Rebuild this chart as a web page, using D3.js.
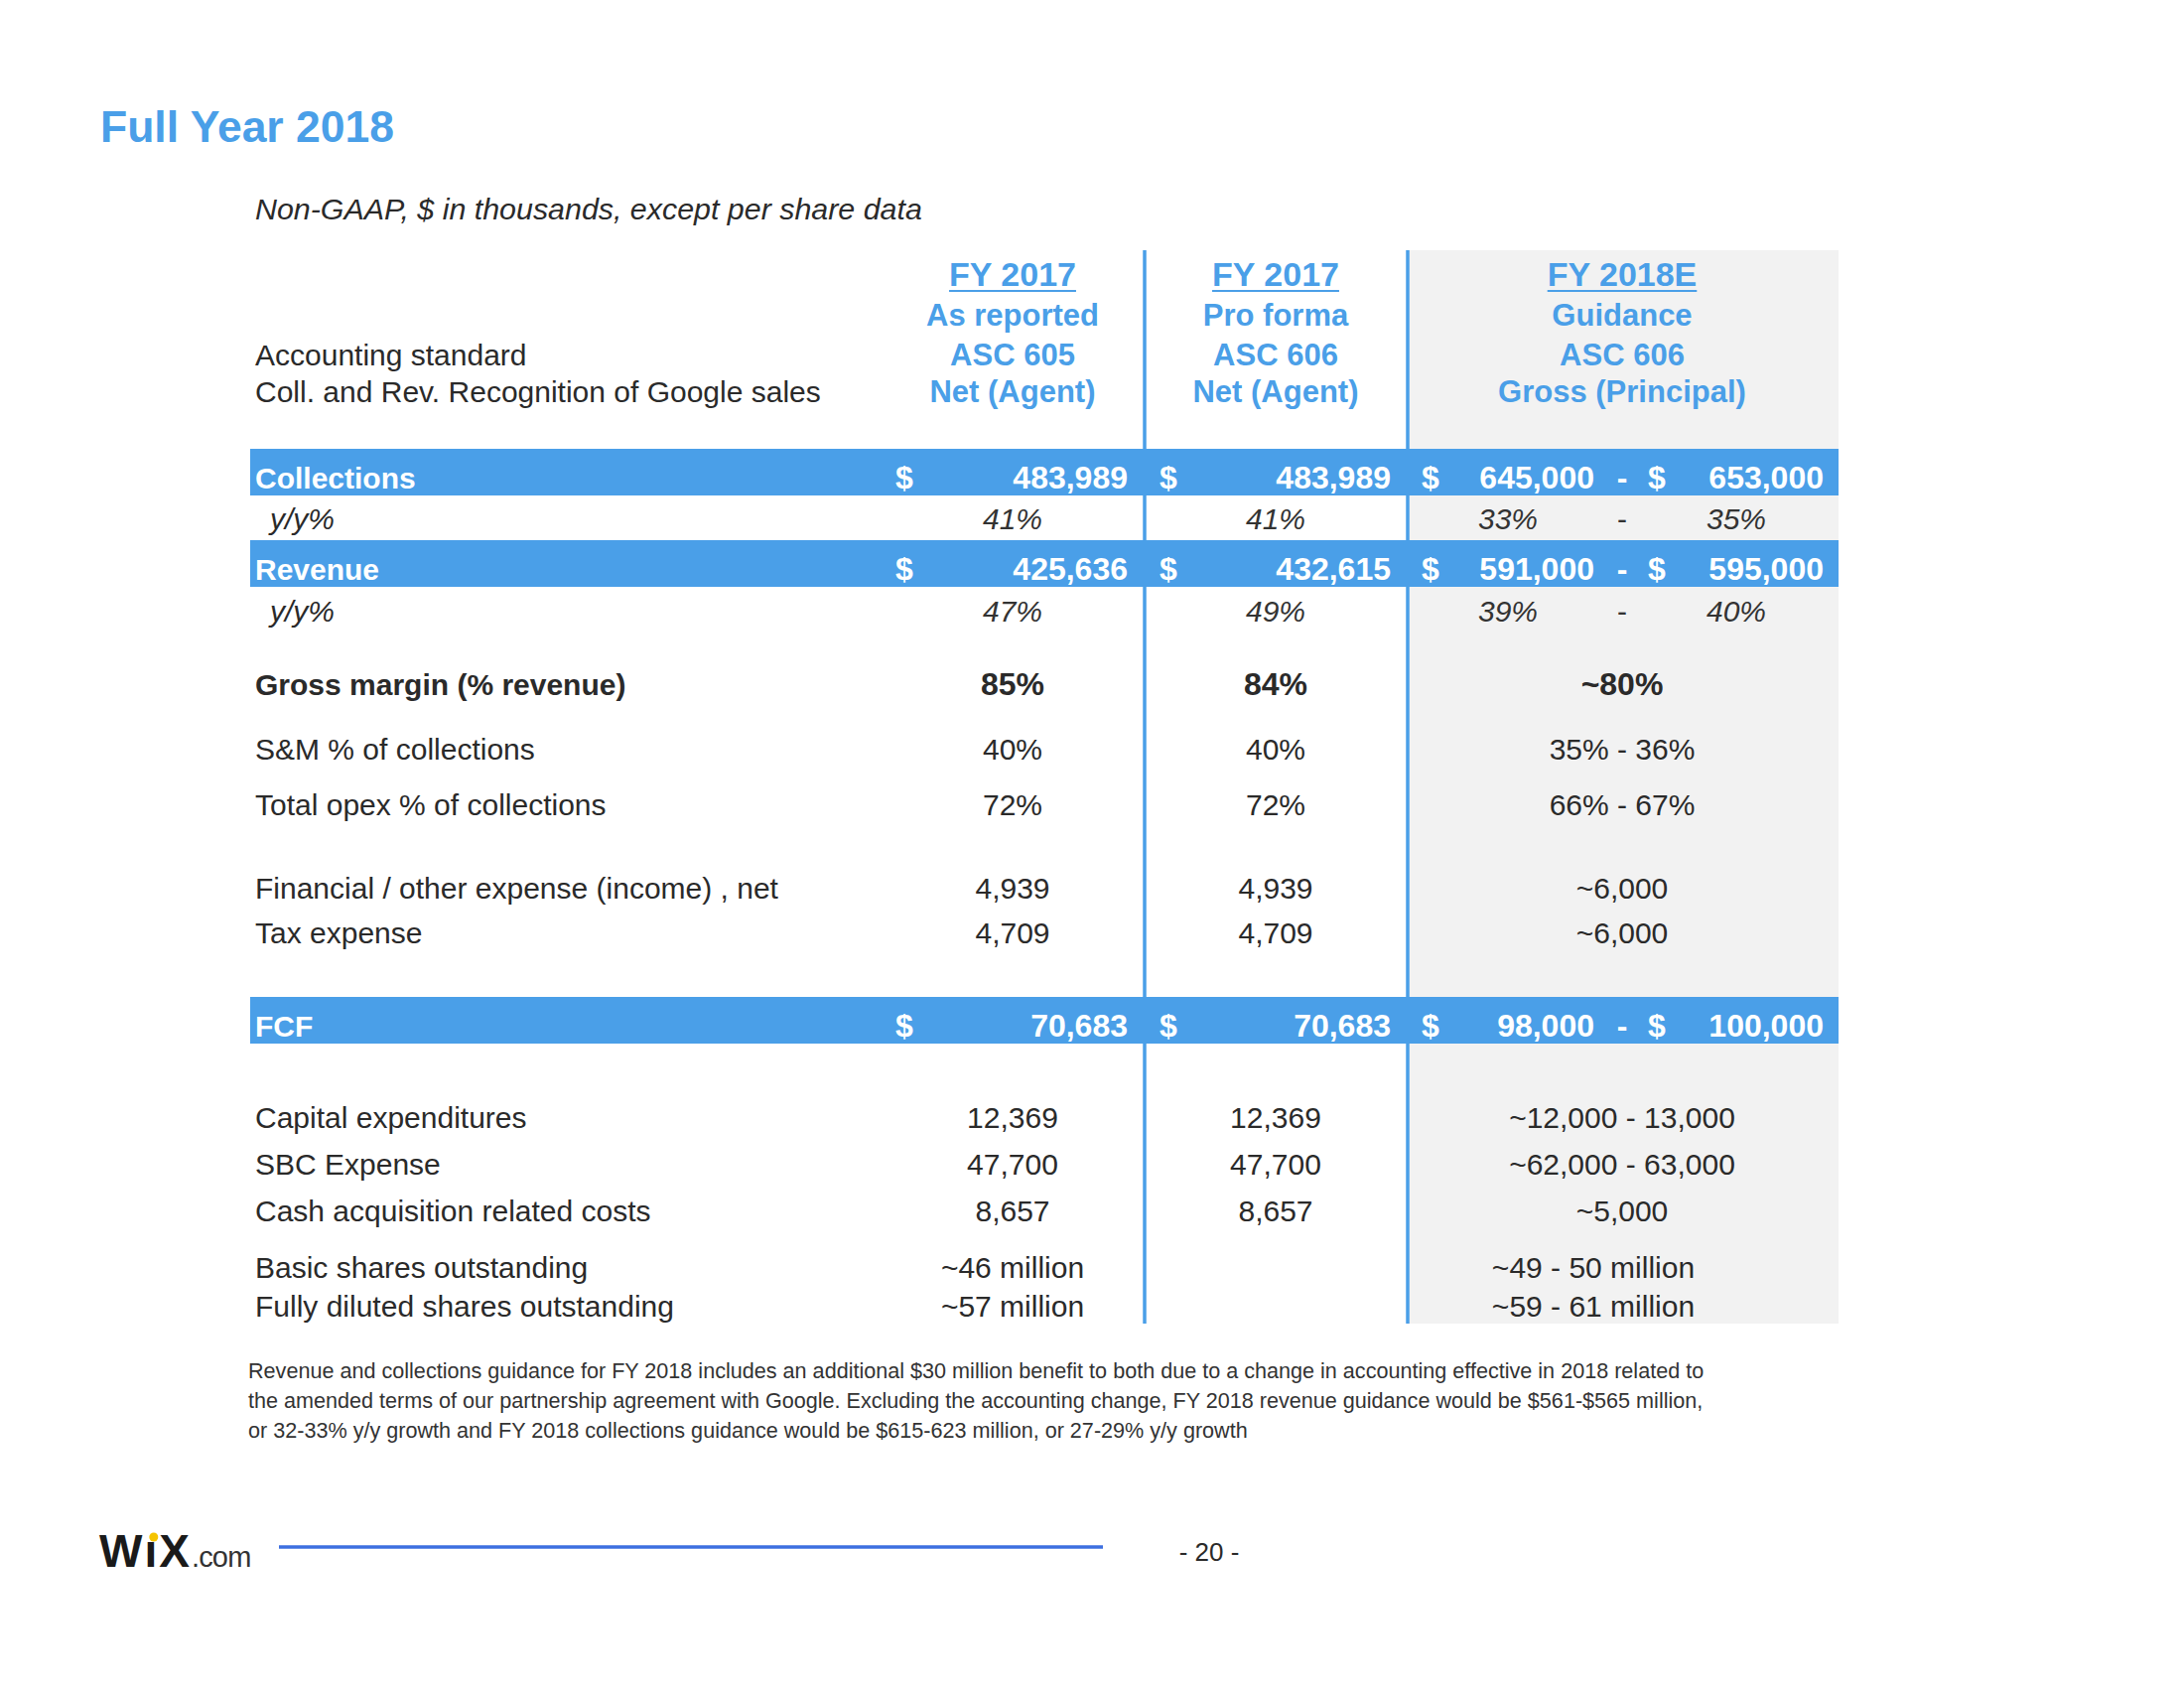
<!DOCTYPE html>
<html><head><meta charset="utf-8">
<script src="https://cdn.jsdelivr.net/npm/d3@7"></script>
<style>html,body{margin:0;padding:0;background:#fff;}svg{display:block;font-family:"Liberation Sans",Arial,Helvetica,sans-serif;}</style>
</head><body>
<script>
// ---------------- DATA ----------------
const title = "Full Year 2018";
const subtitle = "Non-GAAP, $ in thousands, except per share data";
const columns = ["fy17", "fy17pf", "fy18e"];
const columnHeaders = [
  ["FY 2017", "As reported", "ASC 605", "Net (Agent)"],
  ["FY 2017", "Pro forma", "ASC 606", "Net (Agent)"],
  ["FY 2018E", "Guidance", "ASC 606", "Gross (Principal)"]
];
const headerRowLabels = ["Accounting standard", "Coll. and Rev. Recognition of Google sales"];
const rowKeys = ["collections","collYoY","revenue","revYoY","gross","sm","opex","fin","tax","fcf","capex","sbc","cash","basic","diluted"];
const rowLabels = ["Collections","y/y%","Revenue","y/y%","Gross margin (% revenue)","S&M % of collections",
  "Total opex % of collections","Financial / other expense (income) , net","Tax expense","FCF",
  "Capital expenditures","SBC Expense","Cash acquisition related costs","Basic shares outstanding","Fully diluted shares outstanding"];
const rowTypes = ["bar","yoy","bar","yoy","bold","plain","plain","plain","plain","bar","plain","plain","plain","plain","plain"];
// series values (FY2017 as reported, FY2017 pro forma, FY2018E guidance)
const collections   = [483989, 483989, [645000, 653000]];
const collectionsYoY = ["41%", "41%", ["33%", "35%"]];
const revenue       = [425636, 432615, [591000, 595000]];
const revenueYoY    = ["47%", "49%", ["39%", "40%"]];
const grossMargin   = ["85%", "84%", "~80%"];
const smPct         = ["40%", "40%", "35% - 36%"];
const opexPct       = ["72%", "72%", "66% - 67%"];
const financialExp  = [4939, 4939, "~6,000"];
const taxExp        = [4709, 4709, "~6,000"];
const fcf           = [70683, 70683, [98000, 100000]];
const capex         = [12369, 12369, "~12,000 - 13,000"];
const sbcExpense    = [47700, 47700, "~62,000 - 63,000"];
const cashAcq       = [8657, 8657, "~5,000"];
const basicShares   = ["~46 million", "", "~49 - 50 million"];
const dilutedShares = ["~57 million", "", "~59 - 61 million"];
const rowValues = [collections, collectionsYoY, revenue, revenueYoY, grossMargin, smPct, opexPct,
  financialExp, taxExp, fcf, capex, sbcExpense, cashAcq, basicShares, dilutedShares];
const footnote = [
  "Revenue and collections guidance for FY 2018 includes an additional $30 million benefit to both due to a change in accounting effective in 2018 related to",
  "the amended terms of our partnership agreement with Google. Excluding the accounting change, FY 2018 revenue guidance would be $561-$565 million,",
  "or 32-33% y/y growth and FY 2018 collections guidance would be $615-623 million, or 27-29% y/y growth"
];
const pageNumber = "- 20 -";

// ---------------- LAYOUT ----------------
const W = 2200, H = 1700;
const BLUE = "#4a9fe8", GRAY = "#f2f2f2", TEXT = "#2a2a2a", FOOTBLUE = "#3d6fe0";
const tableLeft = 252, tableRight = 1852, tableTop = 252, tableBottom = 1333;
const labelX = 257;

const svg = d3.select("body").append("svg").attr("width", W).attr("height", H);
svg.append("rect").attr("width", W).attr("height", H).attr("fill", "#fff");

// scales
const yRow = d3.scaleOrdinal().domain(rowKeys)
  .range([492, 533, 584, 626, 700, 765, 821, 905, 950, 1044, 1136, 1183, 1230, 1287, 1326]);
const xCenter = d3.scaleOrdinal().domain(columns).range([1020, 1285, 1634]);
const xLeft = d3.scaleOrdinal().domain(columns).range([887, 1153, 1418]);
const xRight = d3.scaleOrdinal().domain(columns).range([1153, 1418, 1852]);
const yHeader = d3.scaleOrdinal().domain([0, 1, 2, 3]).range([288, 328, 368, 405]);
const fmt = d3.format(",");
const fmtVal = v => typeof v === "number" ? fmt(v) : v;

// gray guidance background
svg.append("rect").attr("x", xLeft("fy18e")).attr("y", tableTop)
  .attr("width", xRight("fy18e") - xLeft("fy18e")).attr("height", tableBottom - tableTop).attr("fill", GRAY);

// vertical separators
svg.selectAll("line.sep").data(["fy17pf", "fy18e"]).join("line")
  .attr("x1", d => xLeft(d)).attr("x2", d => xLeft(d))
  .attr("y1", tableTop).attr("y2", tableBottom)
  .attr("stroke", BLUE).attr("stroke-width", 3.5);

// title and subtitle
svg.append("text").attr("x", 101).attr("y", 143).attr("fill", BLUE)
  .attr("font-size", 44.5).attr("font-weight", "bold").text(title);
svg.append("text").attr("x", labelX).attr("y", 221).attr("fill", TEXT)
  .attr("font-size", 30.4).attr("font-style", "italic").text(subtitle);

// column headers
columns.forEach((c, ci) => {
  columnHeaders[ci].forEach((t, li) => {
    const txt = svg.append("text").attr("x", xCenter(c)).attr("y", yHeader(li))
      .attr("text-anchor", "middle").attr("fill", BLUE).attr("font-weight", "bold")
      .attr("font-size", li === 0 ? 34 : 31).text(t);
    if (li === 0) {
      const w = txt.node().getComputedTextLength();
      svg.append("line").attr("x1", xCenter(c) - w / 2).attr("x2", xCenter(c) + w / 2)
        .attr("y1", yHeader(0) + 5).attr("y2", yHeader(0) + 5)
        .attr("stroke", BLUE).attr("stroke-width", 2.2);
    }
  });
});
headerRowLabels.forEach((t, i) => {
  svg.append("text").attr("x", labelX).attr("y", yHeader(i + 2)).attr("fill", TEXT)
    .attr("font-size", 30).text(t);
});

// rows
const rows = rowKeys.map((k, i) => ({key: k, label: rowLabels[i], type: rowTypes[i], values: rowValues[i]}));

// bars
svg.selectAll("rect.bar").data(rows.filter(r => r.type === "bar")).join("rect")
  .attr("class", "bar").attr("x", tableLeft).attr("y", d => yRow(d.key) - 40)
  .attr("width", tableRight - tableLeft).attr("height", 47).attr("fill", BLUE);

const g = svg.append("g");
rows.forEach(r => {
  const y = yRow(r.key);
  const isBar = r.type === "bar", isYoy = r.type === "yoy", isBold = r.type === "bold";
  g.append("text").attr("x", isYoy ? 272 : labelX).attr("y", y)
    .attr("fill", isBar ? "#fff" : TEXT)
    .attr("font-size", 30)
    .attr("font-weight", (isBar || isBold) ? "bold" : "normal")
    .attr("font-style", isYoy ? "italic" : "normal")
    .text(r.label);

  columns.forEach((c, ci) => {
    const v = r.values[ci];
    if (isBar) {
      const put = (x, t, anchor) => g.append("text").attr("x", x).attr("y", y)
        .attr("text-anchor", anchor).attr("fill", "#fff").attr("font-weight", "bold")
        .attr("font-size", 32).text(t);
      if (Array.isArray(v)) {
        put(xLeft(c) + 14, "$", "start");
        put(xCenter(c) - 28, fmt(v[0]), "end");
        put(xCenter(c), "-", "middle");
        put(xCenter(c) + 26, "$", "start");
        put(xRight(c) - 15, fmt(v[1]), "end");
      } else {
        put(xLeft(c) + 15, "$", "start");
        put(xRight(c) - 17, fmt(v), "end");
      }
    } else if (isYoy) {
      const put = (x, t, style) => g.append("text").attr("x", x).attr("y", y)
        .attr("text-anchor", "middle").attr("fill", "#333")
        .attr("font-style", style).attr("font-size", 30).text(t);
      if (Array.isArray(v)) {
        put(xCenter(c) - 115, v[0], "italic");
        put(xCenter(c), "-", "normal");
        put(xCenter(c) + 115, v[1], "italic");
      } else {
        put(xCenter(c), v, "italic");
      }
    } else {
      const shift = (ci === 2 && (r.key === "basic" || r.key === "diluted")) ? -29 : 0;
      g.append("text").attr("x", xCenter(c) + shift).attr("y", y)
        .attr("text-anchor", "middle").attr("fill", TEXT)
        .attr("font-weight", isBold ? "bold" : "normal")
        .attr("font-size", isBold ? 32 : 30).text(fmtVal(v));
    }
  });
});

// footnote
svg.selectAll("text.foot").data(footnote).join("text")
  .attr("class", "foot").attr("x", 250).attr("y", (d, i) => 1388 + i * 30)
  .attr("fill", "#333").attr("font-size", 21.6).text(d => d);

// footer
const logo = svg.append("text").attr("x", 100).attr("y", 1578).attr("fill", "#1a1a1a");
logo.append("tspan").attr("font-size", 46).attr("font-weight", "bold").attr("letter-spacing", 2).text("W\u0131X");
logo.append("tspan").attr("font-size", 29).attr("fill", "#333").attr("letter-spacing", -0.8).text(".com");
const lw = logo.node();
const iStart = lw.getSubStringLength(0, 1);
const iW = lw.getSubStringLength(1, 1);
svg.append("circle").attr("cx", 100 + iStart + iW / 2 + 2).attr("cy", 1548).attr("r", 4.5).attr("fill", "#f5c400");

svg.append("line").attr("x1", 281).attr("x2", 1111).attr("y1", 1558).attr("y2", 1558)
  .attr("stroke", FOOTBLUE).attr("stroke-width", 3.5);
svg.append("text").attr("x", 1218).attr("y", 1572).attr("text-anchor", "middle")
  .attr("fill", TEXT).attr("font-size", 26).text(pageNumber);
</script>
</body></html>
